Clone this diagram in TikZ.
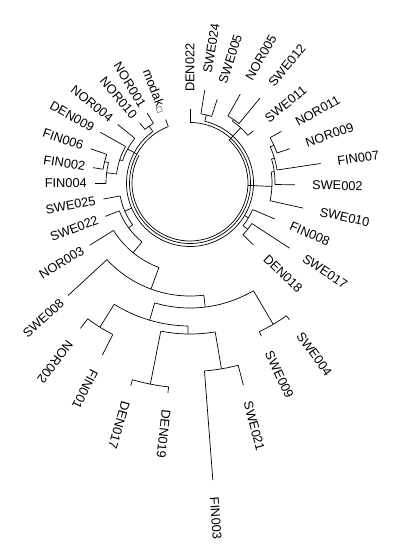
\documentclass[tikz,border=0pt]{standalone}
\usepackage{fontspec}
\setmainfont{Liberation Sans}
\newfontfamily\dejavu{DejaVu Sans}
\newcommand\leafR[5]{%
  \coordinate (#1i) at (#2:#3pt);
  \coordinate (#1t) at (#2:#4pt);
  \draw[br] (#1i) -- (#1t);
  \path (#1t) ++(#2:17pt) node[lab, rotate=#2, anchor=west] (#1) {#5};
}
\newcommand\leafL[5]{%
  \coordinate (#1i) at (#2:#3pt);
  \coordinate (#1t) at (#2:#4pt);
  \draw[br] (#1i) -- (#1t);
  \path (#1t) ++(#2:8pt) node[lab, rotate=#2+180, anchor=east] (#1) {#5};
}
\newcommand\inode[6]{%
  \coordinate (#1) at (#2:#3pt);
  \coordinate (#1p) at (#2:#6pt);
  \draw[br] (#4:#3pt) arc[start angle=#4, end angle=#5, radius=#3pt];
  \draw[br] (#1) -- (#1p);
}
\begin{document}
\begin{tikzpicture}[x=1pt,y=1pt,
  br/.style={line width=0.7pt, black},
  lab/.style={font=\fontsize{12.8}{14}\selectfont, inner sep=0pt}]
\useasboundingbox (-190,-375) rectangle (210,183);
% leaves, reading outward
\leafR{den022}{90}{61}{74}{DEN022}
\leafR{swe024}{81}{70}{94}{SWE024}
\leafR{swe005}{72}{70}{88}{SWE005}
\leafR{nor005}{60.5}{77}{102}{NOR005}
\leafR{swe012}{50.5}{77}{110}{SWE012}
\leafR{swe011}{39.5}{75}{82}{SWE011}
\leafR{nor011}{29.5}{92}{105}{NOR011}
\leafR{nor009}{19}{92}{105.5}{NOR009}
\leafR{fin007}{8.5}{88}{132}{FIN007}
\leafR{swe002}{-1}{85}{105}{SWE002}
\leafR{swe010}{-12.5}{82}{116}{SWE010}
\leafR{fin008}{-23}{68}{92}{FIN008}
\leafR{swe017}{-33.2}{74}{119}{SWE017}
\leafR{den018}{-44.3}{74}{88.6}{DEN018}
\leafR{swe004}{-54}{164}{169}{SWE004}
\leafR{swe009}{-65}{164}{169}{SWE009}
\leafR{swe021}{-75.2}{188.5}{209}{SWE021}
\leafR{fin003}{-85.6}{188.5}{298}{FIN003}
\leafR{den019}{-96}{205}{211}{DEN019}
\leafR{den017}{-106.3}{205}{211}{DEN017}
\leafR{fin001}{-117}{170}{193}{FIN001}
\leafR{nor002}{-127}{170}{182}{NOR002}
% leaves, flipped
\leafL{swe008}{-137.3}{113}{166}{SWE008}
\leafL{nor003}{-148.2}{90}{118}{NOR003}
\leafL{swe022}{-158.5}{76}{91}{SWE022}
\leafL{swe025}{-169.5}{71}{88}{SWE025}
\leafL{fin004}{180}{84}{95}{FIN004}
\leafL{fin002}{171}{88}{98}{FIN002}
\leafL{fin006}{161}{88}{105}{FIN006}
\leafL{den009}{150.5}{74}{103}{DEN009}
\leafL{nor004}{141}{71}{93}{NOR004}
\leafL{nor010}{130}{70}{78}{NOR010}
\leafL{nor001}{121.5}{70}{82}{NOR001}
\leafL{modak}{111}{60.5}{68}{modak{\dejavu\fontsize{7}{8}\selectfont□}}
% bottom clade
\inode{nD}{-59.5}{164}{-65}{-54}{125}
\inode{nH}{-101.15}{205}{-106.3}{-96}{151}
\inode{nI}{-80.4}{188.5}{-85.6}{-75.2}{151}
\inode{nG}{-90.8}{151}{-101.15}{-80.4}{143}
\inode{nE}{-122}{170}{-127}{-117}{143}
\inode{nF}{-106.4}{143}{-122}{-90.8}{125}
\inode{nJ}{-83}{125}{-106.4}{-59.5}{113}
\inode{nC}{-110.2}{113}{-137.3}{-83}{90}
\inode{nK}{-129.2}{90}{-148.2}{-110.2}{76}
\inode{nA}{-143.9}{76}{-158.5}{-129.2}{71}
\inode{nL}{-156.7}{71}{-169.5}{-143.9}{63.5}
% left
\inode{nW}{166}{88}{161}{171}{84}
\inode{nX}{173}{84}{166}{180}{74}
\inode{nY}{161.7}{74}{150.5}{173}{71}
\inode{nZ}{151.4}{71}{141}{161.7}{60.5}
\inode{nN1}{125.75}{70}{121.5}{130}{63.5}
% top right
\inode{nM}{76.5}{70}{72}{81}{63.5}
\inode{nN}{55.5}{77}{50.5}{60.5}{75}
\inode{nO}{47.5}{75}{39.5}{55.5}{58}
\inode{nP}{24.25}{92}{19}{29.5}{88}
\inode{nQ}{16.4}{88}{8.5}{24.25}{85}
\inode{nR}{7.7}{85}{-1}{16.4}{82}
\inode{nS}{-2.4}{82}{-12.5}{7.7}{58}
\inode{nT}{-38.7}{74}{-44.3}{-33.2}{68}
\inode{nU}{-30.8}{68}{-38.7}{-23}{63.5}
% backbone rings
\draw[br] (90:60.5pt) arc[start angle=90, end angle=-249, radius=60.5pt];
\draw[br] (76.5:63.5pt) arc[start angle=76.5, end angle=-234.25, radius=63.5pt];
\draw[br] (47.5:58pt) arc[start angle=47.5, end angle=-208.6, radius=58pt];
\end{tikzpicture}
\end{document}
